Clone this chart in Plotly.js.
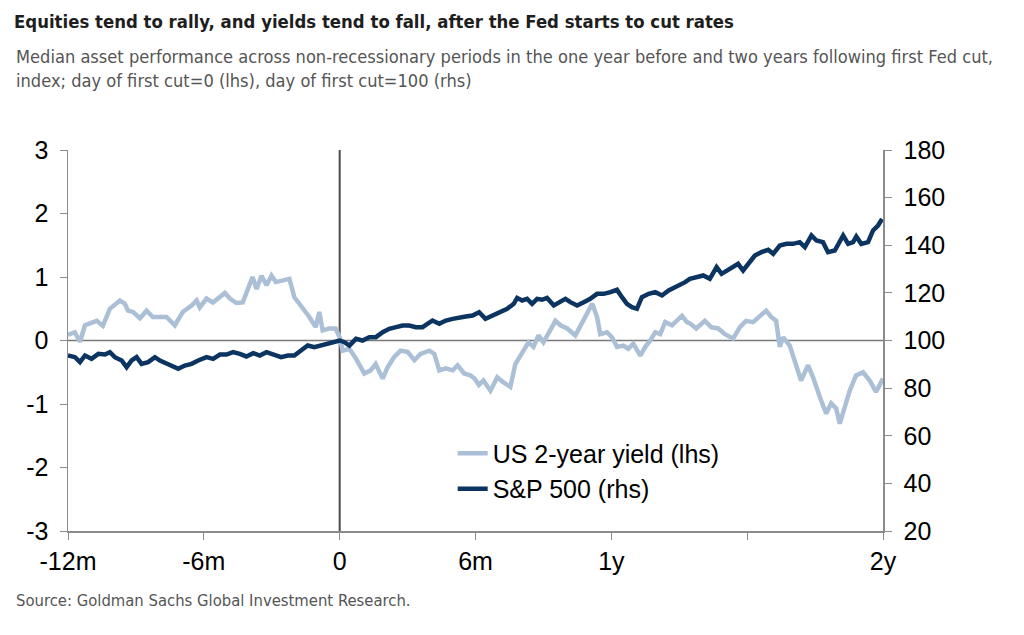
<!DOCTYPE html>
<html>
<head>
<meta charset="utf-8">
<script src="https://cdn.plot.ly/plotly-3.0.1.min.js"></script>
<style>html,body{margin:0;padding:0;background:#fff;}#chart{width:1024px;height:635px;}</style>
</head>
<body>
<div id="chart"></div>
<script>
// Months relative to first Fed cut
const yieldMonths = [-12.0,-11.7,-11.47,-11.25,-11.03,-10.73,-10.46,-10.15,-9.71,-9.49,-9.35,-9.13,-8.82,-8.53,-8.25,-7.94,-7.65,-7.28,-6.93,-6.54,-6.32,-6.18,-5.88,-5.6,-5.38,-5.07,-4.85,-4.56,-4.28,-4.06,-3.85,-3.67,-3.45,-3.23,-3.01,-2.82,-2.51,-2.22,-2.0,-1.72,-1.34,-1.06,-0.9,-0.75,-0.45,-0.18,0.0,0.13,0.43,0.71,1.09,1.37,1.59,1.9,2.12,2.41,2.69,3.0,3.3,3.57,3.96,4.18,4.4,4.68,4.99,5.21,5.5,5.78,5.96,6.15,6.35,6.66,6.96,7.24,7.54,7.76,8.06,8.34,8.56,8.78,9.0,9.22,9.53,9.75,10.05,10.41,10.71,10.99,11.16,11.37,11.51,11.81,12.03,12.25,12.53,12.75,12.97,13.28,13.5,13.72,13.94,14.16,14.38,14.68,14.9,15.12,15.34,15.47,15.75,16.13,16.41,16.72,17.02,17.38,17.68,17.95,18.26,18.56,18.84,19.06,19.28,19.44,19.59,19.88,20.1,20.38,20.69,20.91,21.21,21.49,21.71,21.93,22.09,22.31,22.53,22.81,23.12,23.41,23.69,24.0];
const yieldValues = [0.09,0.13,-0.02,0.24,0.27,0.31,0.23,0.5,0.63,0.58,0.47,0.45,0.35,0.47,0.37,0.37,0.37,0.24,0.45,0.55,0.63,0.52,0.66,0.6,0.66,0.75,0.66,0.59,0.6,0.79,1.0,0.81,1.02,0.87,1.02,0.92,0.94,0.97,0.68,0.55,0.37,0.21,0.45,0.16,0.19,0.19,0.05,-0.16,-0.13,-0.28,-0.52,-0.47,-0.37,-0.6,-0.42,-0.26,-0.16,-0.18,-0.31,-0.21,-0.16,-0.21,-0.47,-0.44,-0.47,-0.39,-0.52,-0.55,-0.6,-0.7,-0.63,-0.79,-0.58,-0.66,-0.73,-0.37,-0.21,-0.03,-0.1,0.08,-0.03,0.1,0.31,0.24,0.19,0.08,0.27,0.47,0.58,0.37,0.1,0.13,0.05,-0.1,-0.08,-0.13,-0.05,-0.24,-0.1,0.0,0.13,0.1,0.29,0.24,0.31,0.39,0.29,0.27,0.19,0.31,0.21,0.19,0.1,0.03,0.21,0.31,0.29,0.39,0.47,0.37,0.31,-0.1,0.05,-0.08,-0.31,-0.63,-0.39,-0.58,-0.89,-1.15,-0.99,-1.07,-1.31,-1.05,-0.79,-0.55,-0.5,-0.63,-0.81,-0.6];

const spxMonths = [-12.0,-11.69,-11.47,-11.25,-10.96,-10.66,-10.37,-10.15,-9.93,-9.63,-9.41,-9.19,-8.97,-8.75,-8.46,-8.16,-7.94,-7.65,-7.35,-7.13,-6.84,-6.54,-6.25,-5.88,-5.59,-5.29,-5.0,-4.71,-4.41,-4.12,-3.82,-3.53,-3.23,-3.01,-2.88,-2.59,-2.29,-2.0,-1.71,-1.41,-1.12,-0.82,-0.53,-0.23,0.0,0.21,0.43,0.72,1.01,1.31,1.6,1.9,2.19,2.49,2.78,3.07,3.37,3.66,3.88,4.1,4.4,4.69,4.99,5.28,5.57,5.87,6.16,6.44,6.74,7.03,7.18,7.4,7.69,7.84,8.06,8.28,8.5,8.72,8.94,9.16,9.46,9.68,9.97,10.19,10.49,10.78,11.07,11.37,11.66,11.96,12.25,12.47,12.69,12.91,13.13,13.35,13.65,13.94,14.24,14.53,14.82,15.04,15.26,15.47,15.76,16.06,16.35,16.65,16.87,17.09,17.38,17.6,17.82,18.04,18.34,18.63,18.93,19.15,19.44,19.74,20.03,20.32,20.55,20.84,21.06,21.35,21.57,21.87,22.01,22.24,22.46,22.68,22.82,23.04,23.34,23.56,23.78,23.96];
const spxValues = [93.7,93.0,90.9,93.7,92.3,94.4,94.1,95.1,93.0,91.6,88.8,91.6,93.0,90.2,90.9,93.0,91.6,90.2,88.8,88.1,89.5,90.2,91.6,93.0,92.3,94.1,94.1,95.1,94.4,93.3,94.7,93.7,95.1,94.4,93.7,93.0,93.7,93.7,95.8,97.9,97.2,97.9,98.6,99.3,100.0,99.3,97.9,100.7,100.0,101.4,101.4,103.5,104.9,105.6,106.3,106.3,105.6,105.6,107.0,108.4,107.0,108.4,109.1,109.8,110.1,110.5,111.9,109.1,110.5,111.9,112.6,113.3,115.4,117.9,116.8,117.5,115.4,117.5,117.1,117.9,114.7,116.1,117.5,116.1,114.7,116.1,117.5,119.6,119.6,120.3,121.3,118.2,115.4,114.0,113.3,118.2,119.6,120.3,118.9,121.0,122.4,123.1,124.5,125.9,126.6,127.3,125.9,130.8,128.0,129.4,130.8,132.2,129.4,132.2,135.7,137.1,138.1,136.4,139.9,140.6,140.6,141.3,139.2,144.1,142.0,141.3,137.1,137.8,139.9,144.1,140.6,141.3,143.7,140.6,141.3,146.2,148.3,151.1];

const xTickVals = [-12,-6,0,6,12,18,24];
const xTickText = ['-12m','-6m','0','6m','1y','','2y'];
const yTickVals = [-3,-2,-1,0,1,2,3];
const yTickText = ['-3','-2','-1','0','1','2','3'];
const y2TickVals = [20,40,60,80,100,120,140,160,180];
const y2TickText = ['20','40','60','80','100','120','140','160','180'];
const seriesNames = ['US 2-year yield (lhs)','S&P 500 (rhs)'];

const tickFont = {family:'"Liberation Sans", Arial, sans-serif', size:25, color:'#000'};
const condensed = '"Liberation Sans Narrow", "DejaVu Sans Condensed", sans-serif';

const traces = [
  {x: yieldMonths, y: yieldValues, type:'scatter', mode:'lines', name: seriesNames[0],
   line:{color:'#abbfd7', width:4.5}, yaxis:'y'},
  {x: spxMonths, y: spxValues, type:'scatter', mode:'lines', name: seriesNames[1],
   line:{color:'#0b3460', width:4.5}, yaxis:'y2'}
];

const layout = {
  width:1024, height:635,
  paper_bgcolor:'#fff', plot_bgcolor:'#fff',
  margin:{l:68, r:141, t:150, b:104},
  showlegend:true,
  title:{text:'<b>Equities tend to rally, and yields tend to fall, after the Fed starts to cut rates</b>',
    x:14/1024, xanchor:'left', xref:'container', y:1-22/635, yanchor:'middle', yref:'container',
    font:{family:condensed, size:18.4, color:'#1e1e1e'}},
  xaxis:{range:[-12,24], tickvals:xTickVals, ticktext:xTickText, showgrid:false, zeroline:false,
    showline:true, linecolor:'#8c8c8c', linewidth:1.5, ticks:'outside', ticklen:7, tickcolor:'#8c8c8c',
    tickfont:tickFont, fixedrange:true},
  yaxis:{range:[-3,3], tickvals:yTickVals, ticktext:yTickText, showgrid:false, zeroline:false, showline:true, linecolor:'#8c8c8c', linewidth:1.5,
    ticks:'outside', ticklen:7, tickcolor:'#8c8c8c', tickfont:tickFont, ticklabelstandoff:6},
  yaxis2:{range:[20,180], tickvals:y2TickVals, ticktext:y2TickText, overlaying:'y', side:'right', showgrid:false, zeroline:false,
    showline:true, linecolor:'#8c8c8c', linewidth:1.5, ticks:'outside', ticklen:7, tickcolor:'#8c8c8c',
    tickfont:tickFont, ticklabelstandoff:7},
  legend:{x:0.472, y:0.264, xanchor:'left', yanchor:'top', bgcolor:'rgba(0,0,0,0)',
    font:{family:'"Liberation Sans", Arial, sans-serif', size:25, color:'#000'}, tracegroupgap:0, itemwidth:30},
  shapes:[
    {type:'line', xref:'paper', x0:0, x1:1, yref:'y', y0:0, y1:0, line:{color:'#7a7a7a', width:1.5}, layer:'below'},
    {type:'line', xref:'x', x0:0, x1:0, yref:'paper', y0:0, y1:1, line:{color:'#4a4a4a', width:2}, layer:'below'}
  ],
  annotations:[
    {text:'Median asset performance across non-recessionary periods in the one year before and two years following first Fed cut,<br>index; day of first cut=0 (lhs), day of first cut=100 (rhs)',
     xref:'paper', yref:'paper', x:(14-68)/815, y:(531-44)/381, xanchor:'left', yanchor:'top', align:'left', showarrow:false,
     font:{family:condensed, size:18.1, color:'#555'}},
    {text:'Source: Goldman Sachs Global Investment Research.',
     xref:'paper', yref:'paper', x:(14-68)/815, y:(531-600)/381, xanchor:'left', yanchor:'middle', showarrow:false,
     font:{family:condensed, size:16.5, color:'#555'}}
  ]
};

Plotly.newPlot('chart', traces, layout, {displayModeBar:false, staticPlot:true});
</script>
</body>
</html>
